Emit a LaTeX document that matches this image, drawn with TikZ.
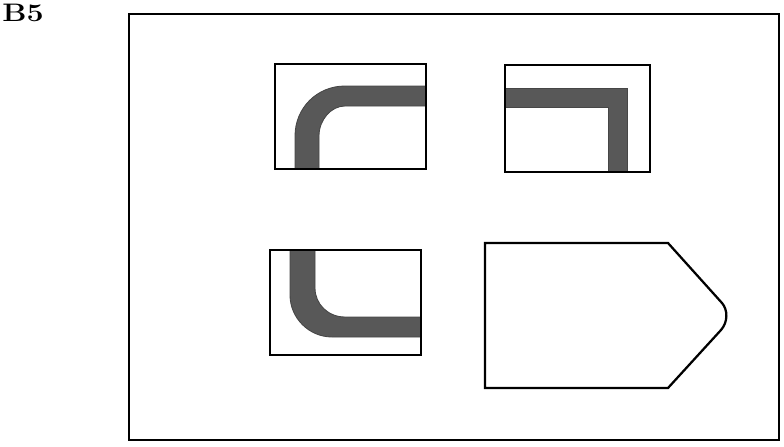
\documentclass[tikz,border=0pt]{standalone}
\usepackage{fontspec}
\usetikzlibrary{positioning}
\definecolor{barGrey}{HTML}{585858}
\newcommand{\tagfont}{\fontsize{18pt}{21pt}\selectfont\bfseries}
\tikzset{
  % one unit is one pixel of the sheet, y running downwards
  every picture/.append style = {line width=1.5pt, line join=miter},
  sheet/.style  = {line width=1.6pt, black},
  tile/.style   = {line width=1.6pt, black},
  bar/.style    = {fill=barGrey, draw=barGrey!80!black, line width=0.6pt},
  sheettag/.style = {font=\tagfont, inner sep=0pt, xscale=1.2, transform shape},
}

\begin{document}
\begin{tikzpicture}[x=0.025cm, y=-0.025cm]
  \useasboundingbox (0,0) rectangle (784,447);
  % label and sheet
  \node[sheettag, anchor=north west] (tagB) at (1,3) {B5};
  \draw[sheet] (129,14) rectangle (779,440);
  % top left: rounded bend
  \fill[bar] (295,169) -- (295,136) .. controls (295,108) and (317,86) .. (345,86)
     -- (426,86) -- (426,106) -- (345,106)
     .. controls (331,106) and (319,120) .. (319,136) -- (319,169) -- cycle;
  \draw[tile] (275,64) rectangle (426,169);
  % top right: sharp bend
  \fill[bar] (505,88) -- (627,88) -- (627,172) -- (608,172) -- (608,107)
     -- (505,107) -- cycle;
  \draw[tile] (505,65) rectangle (650,172);
  % bottom left: rounded bend
  \fill[bar] (290,250) -- (290,295) .. controls (290,318) and (309,337) .. (332,337)
     -- (421,337) -- (421,317) -- (345,317)
     .. controls (328,317) and (315,304) .. (315,288) -- (315,250) -- cycle;
  \draw[tile] (270,250) rectangle (421,355);
  % bottom right: pointed plate
  \draw[tile] (485,243) -- (668,243) -- (722,303)
     .. controls (728,310) and (728,322) .. (721,330)
     -- (668,388) -- (485,388) -- cycle;
\end{tikzpicture}
\end{document}
